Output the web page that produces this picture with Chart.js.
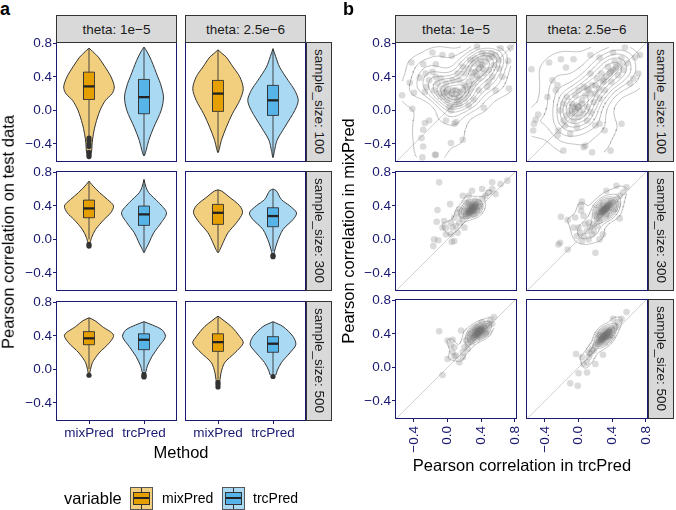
<!DOCTYPE html>
<html>
<head>
<meta charset="utf-8">
<script src="https://cdn.jsdelivr.net/npm/chart.js@4.4.1/dist/chart.umd.min.js"></script>
<style>
  body { margin: 0; background: #fff; }
  #fig { position: relative; width: 676px; height: 510px; overflow: hidden;
         font-family: 'Liberation Sans', Arial, sans-serif; color: #1a1a1a; }
  #fig canvas { position: absolute; }
  .strip { position: absolute; box-sizing: border-box; background: #d9d9d9; border: 1px solid #333;
           font-size: 13.5px; display: flex; align-items: center; justify-content: center; white-space: nowrap; }
  .strip.side span { writing-mode: vertical-rl; }
  .txt { position: absolute; white-space: nowrap; line-height: 1; }
  .key { position: absolute; width: 23px; height: 23px; box-sizing: border-box; border: 1px solid #555; }
  .key .wh { position: absolute; left: 10px; top: 0; width: 1px; height: 21px; background: #333; }
  .key .bx { position: absolute; left: 2px; top: 4px; width: 17px; height: 13px; box-sizing: border-box; border: 1px solid #333; }
  .key .md { position: absolute; left: 0; top: 4px; width: 15px; height: 2px; background: #222; }
</style>
</head>
<body>
<div id="fig"></div>
<script>
const navy = '#191970';
const categories = ['mixPred', 'trcPred'];
const thetaLabels = ['theta: 1e\u22125', 'theta: 2.5e\u22126'];
const sizeLabels = ['sample_size: 100', 'sample_size: 300', 'sample_size: 500'];
const corTicks = [-0.4, 0, 0.4, 0.8];

// violin outlines as [correlation, half width in category units]; rows = sample size, cols = theta
const violinMix = [
  [[[0.74,0],[0.72,0.04],[0.70,0.07],[0.635,0.17],[0.52,0.29],[0.40,0.40],[0.28,0.46],[0.20,0.42],[0.12,0.30],[0.0,0.20],[-0.16,0.12],[-0.28,0.08],[-0.40,0.055],[-0.50,0.045],[-0.555,0]],
   [[0.722,0],[0.68,0.07],[0.635,0.15],[0.516,0.275],[0.40,0.396],[0.258,0.459],[0.12,0.396],[-0.04,0.262],[-0.2,0.152],[-0.357,0.061],[-0.45,0.028],[-0.504,0]]],
  [[[0.694,0],[0.65,0.055],[0.556,0.194],[0.476,0.336],[0.40,0.446],[0.317,0.396],[0.238,0.275],[0.119,0.121],[0.02,0.046],[-0.08,0]],
   [[0.59,0],[0.575,0.07],[0.516,0.183],[0.40,0.396],[0.317,0.446],[0.198,0.336],[0.08,0.183],[-0.04,0.092],[-0.12,0.037],[-0.159,0]]],
  [[[0.615,0],[0.58,0.11],[0.51,0.244],[0.41,0.446],[0.314,0.367],[0.196,0.183],[0.08,0.061],[0.0,0.028],[-0.07,0]],
   [[0.635,0],[0.58,0.11],[0.51,0.244],[0.39,0.396],[0.314,0.459],[0.196,0.305],[0.08,0.121],[-0.04,0.055],[-0.12,0.037],[-0.21,0]]]
];
const violinTrc = [
  [[[0.754,0],[0.70,0.055],[0.595,0.134],[0.40,0.25],[0.317,0.30],[0.16,0.354],[0.0,0.312],[-0.2,0.178],[-0.357,0.086],[-0.48,0.037],[-0.544,0]],
   [[0.735,0],[0.64,0.05],[0.516,0.12],[0.357,0.275],[0.238,0.396],[0.12,0.459],[0.0,0.396],[-0.2,0.213],[-0.357,0.073],[-0.48,0.028],[-0.563,0]]],
  [[[0.714,0],[0.62,0.037],[0.556,0.086],[0.437,0.27],[0.317,0.409],[0.198,0.312],[0.08,0.178],[-0.04,0.092],[-0.12,0.03],[-0.159,0]],
   [[0.60,0],[0.58,0.06],[0.476,0.152],[0.40,0.305],[0.317,0.428],[0.238,0.367],[0.119,0.183],[-0.04,0.073],[-0.14,0.028],[-0.206,0]]],
  [[[0.568,0],[0.53,0.15],[0.47,0.33],[0.39,0.39],[0.274,0.27],[0.156,0.147],[0.04,0.061],[-0.02,0.037],[-0.09,0]],
   [[0.568,0],[0.51,0.183],[0.39,0.367],[0.294,0.415],[0.196,0.305],[0.08,0.152],[-0.02,0.073],[-0.06,0.055],[-0.085,0]]]
];
// boxplots: [lower whisker, q1, median, q3, upper whisker]
const boxMix = [
  [[-0.318, 0.13, 0.286, 0.456, 0.735], [-0.50, -0.012, 0.20, 0.357, 0.72]],
  [[0.0, 0.258, 0.369, 0.468, 0.69], [-0.159, 0.179, 0.317, 0.417, 0.587]],
  [[0.0, 0.294, 0.37, 0.45, 0.615], [-0.12, 0.215, 0.325, 0.424, 0.635]]
];
const boxTrc = [
  [[-0.54, -0.04, 0.158, 0.369, 0.75], [-0.56, -0.06, 0.12, 0.298, 0.735]],
  [[-0.159, 0.167, 0.298, 0.397, 0.71], [-0.14, 0.151, 0.278, 0.377, 0.595]],
  [[-0.02, 0.235, 0.353, 0.424, 0.568], [-0.06, 0.204, 0.306, 0.39, 0.568]]
];
const outMix = [
  [[-0.33, -0.36, -0.40, -0.43, -0.50, -0.53, -0.55], []],
  [[-0.06, -0.08], []],
  [[-0.07], [-0.155, -0.18, -0.21]]
];
const outTrc = [
  [[], []],
  [[], [-0.19, -0.206]],
  [[-0.06, -0.08, -0.09], [-0.085]]
];

// scatter points [trcPred, mixPred]
const pairs_n100_t1 = [[-0.18,0.69],[-0.06,0.66],[0.05,0.65],[0.35,0.76],[0.52,0.68],[0.63,0.74],[0.75,0.75],[-0.43,0.57],[-0.29,0.55],[-0.14,0.55],[-0.26,0.44],[-0.33,0.39],[-0.45,0.33],[-0.54,0.18],[-0.40,0.21],[-0.27,0.22],[-0.25,0.28],[-0.42,0.02],[-0.27,-0.15],[-0.22,-0.12],[-0.29,-0.23],[-0.31,-0.33],[-0.29,-0.43],[-0.30,-0.56],[-0.14,-0.53],[-0.15,-0.53],[0.04,-0.39],[0.18,-0.35],[0.10,-0.14],[0.08,-0.16],[-0.02,-0.12],[0.43,0.03],[0.31,0.13],[0.73,0.26],[0.57,0.24],[0.72,0.59],[0.49,0.34],[0.04,0.0],[0.25,0.06],
  [-0.12,0.32],[-0.06,0.26],[-0.02,0.22],[0.02,0.18],[0.06,0.24],[0.10,0.20],[0.14,0.16],[0.0,0.12],[-0.06,0.16],[-0.10,0.20],[0.18,0.24],[0.22,0.28],[0.25,0.34],[0.29,0.40],[0.33,0.46],[0.37,0.50],[0.41,0.54],[0.45,0.58],[0.49,0.62],[0.53,0.64],[0.57,0.66],[0.61,0.60],[0.55,0.54],[0.49,0.48],[0.43,0.44],[0.37,0.38],[0.31,0.32],[0.27,0.26],[0.24,0.20],[0.20,0.14],[0.14,0.08],[0.08,0.06],[0.02,0.04],[-0.14,0.40],[-0.18,0.46],[-0.22,0.36],[-0.16,0.24],[0.20,0.44],[0.25,0.50],[0.31,0.56],[0.39,0.60],[0.45,0.66],[0.61,0.50],[0.65,0.40],[0.53,0.40],[0.47,0.28],[0.37,0.24],[0.14,0.36],[0.06,0.36],[-0.02,0.32],[-0.08,0.38],[0.33,0.62],[0.41,0.68],[0.12,0.44],[0.18,0.52],[0.27,0.60],
  [0.05,0.20],[0.10,0.24],[0.30,0.45],[0.38,0.55],[0.20,0.30],[0.0,0.25],[0.15,0.22],[0.08,0.15],[-0.04,0.20],[0.42,0.50],[0.35,0.42],[0.12,0.12]];
const pairs_n100_t2 = [[-0.56,0.49],[-0.35,0.57],[-0.15,0.51],[-0.21,0.61],[-0.06,0.61],[0.14,0.66],[0.25,0.63],[0.41,0.69],[0.55,0.75],[0.67,0.63],[0.73,0.66],[-0.31,0.36],[-0.25,0.30],[-0.27,0.24],[-0.37,0.16],[-0.48,-0.05],[-0.51,-0.11],[-0.53,-0.16],[-0.54,-0.24],[-0.24,-0.24],[-0.25,-0.30],[-0.18,-0.48],[0.06,-0.44],[0.08,-0.42],[0.16,-0.50],[0.38,-0.48],[0.31,-0.24],[0.25,-0.16],[0.20,-0.18],[0.51,-0.16],[0.71,0.44],[0.65,0.38],[0.61,0.32],[-0.10,-0.28],[-0.02,-0.20],
  [-0.18,-0.12],[-0.14,-0.06],[-0.10,0.0],[-0.06,0.04],[-0.02,0.06],[-0.08,0.08],[-0.04,-0.02],[0.02,0.0],[0.0,-0.08],[0.06,-0.04],[0.10,0.04],[0.04,0.12],[0.08,0.18],[0.12,0.24],[0.06,0.28],[0.16,0.30],[0.20,0.20],[0.24,0.26],[0.29,0.34],[0.33,0.40],[0.37,0.44],[0.41,0.48],[0.45,0.52],[0.49,0.55],[0.53,0.48],[0.47,0.42],[0.39,0.34],[0.31,0.24],[0.25,0.14],[0.18,0.10],[0.14,-0.02],[-0.04,0.18],[0.0,0.24],[-0.14,0.16],[-0.18,0.08],[-0.22,0.0],[0.27,0.44],[0.35,0.52],[0.22,0.38],[0.14,0.44],[0.43,0.58],[0.51,0.62],[0.57,0.56],[-0.06,-0.12],[0.10,-0.12],[-0.16,-0.18],
  [-0.04,0.02],[0.0,0.04],[0.10,0.26],[0.14,0.20],[0.30,0.36],[0.38,0.46],[0.44,0.50],[0.20,0.30],[-0.08,-0.04],[0.04,0.08]];
const pairs_n300_t1 = [[-0.10,0.68],[0.53,0.68],[0.63,0.66],[0.71,0.70],[0.03,0.42],[-0.12,0.35],[-0.13,0.21],[-0.06,0.14],[-0.16,0.0],[-0.11,-0.01],[-0.17,-0.08],[-0.02,0.06],[0.04,0.06],[0.08,-0.02],[0.05,-0.03],[0.29,0.58],
  [0.10,0.16],[0.14,0.20],[0.18,0.24],[0.22,0.28],[0.25,0.32],[0.29,0.36],[0.33,0.40],[0.37,0.44],[0.41,0.48],[0.45,0.52],[0.49,0.56],[0.53,0.60],[0.24,0.36],[0.31,0.30],[0.27,0.40],[0.35,0.34],[0.20,0.34],[0.25,0.44],[0.16,0.28],[0.33,0.46],[0.39,0.40],[0.29,0.42],[0.22,0.44],[0.14,0.36],[0.08,0.26],[0.04,0.20],[0.12,0.32],[0.18,0.52],[0.41,0.60],[0.57,0.54],[0.06,0.14],[-0.02,0.14],[-0.04,0.22],[0.12,0.08],[0.20,0.14],[0.25,0.52],[0.31,0.34],[0.29,0.37],[0.30,0.38],[0.26,0.34],[0.32,0.39],[0.25,0.32],
  [0.28,0.35],[0.30,0.36],[0.27,0.36],[0.31,0.37],[0.29,0.34],[0.26,0.33],[0.33,0.38],[0.28,0.38],[0.30,0.40],[0.24,0.30],[0.34,0.42],[0.22,0.30],
  [0.27,0.33],[0.30,0.37],[0.33,0.39],[0.29,0.36],[0.31,0.38],[0.28,0.34],[0.32,0.40],[0.26,0.32]];
const pairs_n300_t2 = [[0.04,0.45],[0.03,0.40],[-0.21,0.27],[-0.13,0.23],[-0.04,0.26],[0.03,0.34],[0.06,0.28],[-0.06,0.14],[-0.22,-0.04],[-0.24,-0.06],[-0.13,-0.12],[0.20,-0.16],[0.29,0.06],[0.25,0.0],[0.49,0.25],[0.33,0.58],[0.57,0.62],[0.45,0.64],
  [-0.02,0.04],[0.02,0.08],[0.06,0.04],[0.10,0.10],[0.04,-0.02],[0.12,0.0],[0.16,0.06],[0.14,0.14],[0.18,0.18],[0.22,0.24],[0.25,0.28],[0.29,0.32],[0.33,0.36],[0.37,0.40],[0.41,0.44],[0.45,0.48],[0.49,0.52],[0.53,0.56],[0.31,0.34],[0.27,0.36],[0.35,0.38],[0.29,0.40],[0.33,0.30],[0.24,0.32],[0.39,0.46],[0.20,0.28],[0.08,0.18],[0.12,0.20],[0.18,0.10],[0.43,0.36],[0.47,0.42],[0.25,0.22],[0.31,0.37],[0.29,0.34],[0.34,0.39],[0.22,0.16],[0.0,0.14],
  [0.30,0.35],[0.32,0.37],[0.28,0.33],[0.33,0.38],[0.31,0.36],[0.27,0.32],[0.35,0.40],[0.36,0.42],[0.26,0.30],[0.38,0.43],
  [0.29,0.34],[0.32,0.36],[0.34,0.39],[0.30,0.36],[0.33,0.37],[0.28,0.33],[0.35,0.41],[0.31,0.35]];
const pairs_n500_t1 = [[-0.10,0.43],[0.16,0.44],[0.0,0.32],[0.06,0.33],[0.04,0.26],[0.08,0.24],[0.06,0.18],[0.0,0.10],[0.10,0.14],[0.08,0.13],[0.14,0.06],[0.18,0.12],[-0.06,-0.09],
  [0.20,0.24],[0.24,0.28],[0.27,0.32],[0.31,0.36],[0.35,0.40],[0.39,0.44],[0.43,0.48],[0.47,0.52],[0.51,0.56],[0.55,0.60],[0.25,0.36],[0.33,0.44],[0.37,0.38],[0.41,0.42],[0.29,0.30],[0.45,0.46],[0.35,0.48],[0.22,0.32],[0.49,0.50],[0.38,0.43],[0.36,0.41],[0.40,0.45],[0.33,0.39],[0.24,0.22],[0.53,0.52],[0.27,0.40],[0.18,0.18],[0.41,0.54],[0.45,0.40],
  [0.36,0.42],[0.37,0.43],[0.35,0.41],[0.38,0.44],[0.34,0.40],[0.39,0.45],[0.40,0.46],[0.32,0.38],[0.42,0.47],[0.30,0.35],[0.37,0.41],[0.36,0.44],
  [0.34,0.39],[0.37,0.42],[0.40,0.45],[0.36,0.41],[0.38,0.44],[0.35,0.42],[0.39,0.43],[0.33,0.37]];
const pairs_n500_t2 = [[0.57,0.66],[0.41,0.58],[-0.03,0.16],[0.04,0.12],[0.10,0.06],[0.20,0.04],[0.10,-0.06],[0.0,-0.07],[-0.10,-0.19],[-0.01,-0.22],[0.29,0.15],[0.06,0.04],[0.12,0.12],
  [0.12,0.18],[0.16,0.22],[0.20,0.26],[0.24,0.30],[0.27,0.34],[0.31,0.38],[0.35,0.42],[0.39,0.46],[0.43,0.50],[0.47,0.54],[0.51,0.58],[0.29,0.36],[0.33,0.40],[0.25,0.32],[0.37,0.44],[0.22,0.28],[0.30,0.37],[0.32,0.39],[0.28,0.34],[0.35,0.41],[0.18,0.20],[0.41,0.44],[0.25,0.38],[0.37,0.38],[0.14,0.16],[0.45,0.48],
  [0.30,0.36],[0.31,0.37],[0.29,0.35],[0.32,0.38],[0.33,0.39],[0.28,0.33],[0.34,0.40],[0.27,0.33],[0.36,0.42],[0.26,0.31],[0.30,0.38],[0.32,0.36],
  [0.29,0.35],[0.31,0.38],[0.34,0.41],[0.30,0.36],[0.33,0.38],[0.28,0.34],[0.36,0.43],[0.32,0.37]];
const scatterPairs = [[pairs_n100_t1, pairs_n100_t2], [pairs_n300_t1, pairs_n300_t2], [pairs_n500_t1, pairs_n500_t2]];

// layout
const fig = document.getElementById('fig');
const aCols = [56, 185], aW = 121, aRows = [42, 171, 301];
const bCols = [395, 526], bW = 122, bRows = [42, 171, 299];
const rowH = 120;
const AXW = 60, AXH = 44, PT = 10, PR = 24;
const lightMix = '#F2CF7F', darkMix = '#E69F00';
const lightTrc = '#AAD9F4', darkTrc = '#56B4E9';

Chart.defaults.font.family = "'Liberation Sans', Arial, sans-serif";

const frame = {
  id: 'frame',
  afterDraw(c) {
    const a = c.chartArea, g = c.ctx;
    g.save();
    g.strokeStyle = navy;
    g.lineWidth = 1;
    g.strokeRect(a.left + 0.5, a.top + 0.5, a.width - 1, a.height - 1);
    g.restore();
  }
};

const fmt = v => (v < 0 ? '\u2212' : '') + Math.abs(v).toFixed(1);

function addChart(L, T, W, H, cfg) {
  const cv = document.createElement('canvas');
  cv.width = W + AXW + PR;
  cv.height = H + PT + AXH;
  cv.style.left = (L - AXW) + 'px';
  cv.style.top = (T - PT) + 'px';
  fig.appendChild(cv);
  const tickFont = { size: 13.5 };
  new Chart(cv, {
    type: 'line',
    data: { datasets: cfg.datasets },
    options: {
      responsive: false,
      animation: false,
      events: [],
      layout: { padding: { top: PT, right: PR, left: 0, bottom: 0 } },
      plugins: { legend: { display: false }, tooltip: { enabled: false } },
      scales: {
        x: {
          type: 'linear', min: cfg.xMin, max: cfg.xMax,
          afterBuildTicks: s => { s.ticks = cfg.xTicks.map(v => ({ value: v })); },
          afterFit: s => { s.height = AXH; },
          grid: { drawOnChartArea: false, drawTicks: cfg.showX, tickLength: 3, tickColor: navy },
          border: { display: false },
          ticks: { display: cfg.showX, color: navy, font: tickFont, padding: cfg.xPad, autoSkip: false,
                   minRotation: cfg.rot, maxRotation: cfg.rot, callback: cfg.xLabel }
        },
        y: {
          type: 'linear', min: -0.615, max: 0.815,
          afterBuildTicks: s => { s.ticks = corTicks.map(v => ({ value: v })); },
          afterFit: s => { s.width = AXW; },
          grid: { drawOnChartArea: false, drawTicks: cfg.showY, tickLength: 3, tickColor: navy },
          border: { display: false },
          ticks: { display: cfg.showY, color: navy, font: tickFont, padding: 1, callback: fmt }
        }
      }
    },
    plugins: [frame]
  });
}

function violinSets(c, prof, box, outs, light, dark) {
  const right = prof.map(([v, w]) => ({ x: c + w, y: v }));
  const left = prof.slice(0, -1).reverse().map(([v, w]) => ({ x: c - w, y: v }));
  const bw = 0.1;
  return [
    { data: right.concat(left), fill: 'shape', backgroundColor: light, borderColor: '#333',
      borderWidth: 1, pointRadius: 0, tension: 0.3, order: 6 },
    { data: [{ x: c, y: box[0] }, { x: c, y: box[4] }], borderColor: '#333', borderWidth: 0.9, pointRadius: 0, order: 5 },
    { data: [{ x: c - bw, y: box[1] }, { x: c + bw, y: box[1] }, { x: c + bw, y: box[3] }, { x: c - bw, y: box[3] }, { x: c - bw, y: box[1] }],
      fill: 'shape', backgroundColor: dark, borderColor: '#333', borderWidth: 0.9, pointRadius: 0, order: 4 },
    { data: [{ x: c - bw, y: box[2] }, { x: c + bw, y: box[2] }], borderColor: '#222', borderWidth: 2.3, pointRadius: 0, order: 3 },
    { data: outs.map(v => ({ x: c, y: v })), showLine: false, pointRadius: 2.6,
      pointBackgroundColor: '#333', pointBorderWidth: 0, order: 2 }
  ];
}

// 2d kernel density (MASS::kde2d style) and its contour lines
function quantile(s, p) {
  const h = (s.length - 1) * p, lo = Math.floor(h);
  return s[lo] + (h - lo) * (s[Math.min(lo + 1, s.length - 1)] - s[lo]);
}
function bandwidth(v) {
  const n = v.length, m = v.reduce((a, b) => a + b, 0) / n;
  const sd = Math.sqrt(v.reduce((a, b) => a + (b - m) ** 2, 0) / (n - 1));
  const s = [...v].sort((a, b) => a - b);
  const iqr = (quantile(s, 0.75) - quantile(s, 0.25)) / 1.34;
  return 4 * 1.06 * Math.min(sd, iqr) * Math.pow(n, -0.2);
}
function contourSegments(pts) {
  const xs = pts.map(p => p[0]), ys = pts.map(p => p[1]), n = pts.length;
  const hx = bandwidth(xs) / 4, hy = bandwidth(ys) / 4;
  const N = 60;
  const x0 = Math.min(...xs), x1 = Math.max(...xs), y0 = Math.min(...ys), y1 = Math.max(...ys);
  const gx = [], gy = [];
  for (let i = 0; i < N; i++) { gx.push(x0 + (x1 - x0) * i / (N - 1)); gy.push(y0 + (y1 - y0) * i / (N - 1)); }
  const z = [];
  let zmin = Infinity, zmax = -Infinity;
  for (let i = 0; i < N; i++) {
    z.push([]);
    for (let j = 0; j < N; j++) {
      let s = 0;
      for (let k = 0; k < n; k++) {
        const a = (gx[i] - xs[k]) / hx, b = (gy[j] - ys[k]) / hy;
        s += Math.exp(-0.5 * (a * a + b * b));
      }
      s /= n * 2 * Math.PI * hx * hy;
      z[i].push(s);
      zmin = Math.min(zmin, s); zmax = Math.max(zmax, s);
    }
  }
  const cell = (zmax - zmin) / 10, U = Math.pow(10, Math.floor(Math.log10(cell)));
  let unit = U;
  if (2 * U - cell < 1.5 * (cell - unit)) {
    unit = 2 * U;
    if (5 * U - cell < 2.75 * (cell - unit)) {
      unit = 5 * U;
      if (10 * U - cell < 1.5 * (cell - unit)) unit = 10 * U;
    }
  }
  const levels = [];
  for (let l = Math.ceil(zmin / unit) * unit; l < zmax; l += unit) if (l > zmin) levels.push(l);
  const seg = [];
  for (const l of levels) {
    for (let i = 0; i < N - 1; i++) {
      for (let j = 0; j < N - 1; j++) {
        const c = [[gx[i], gy[j], z[i][j]], [gx[i + 1], gy[j], z[i + 1][j]],
                   [gx[i + 1], gy[j + 1], z[i + 1][j + 1]], [gx[i], gy[j + 1], z[i][j + 1]]];
        const hits = [];
        for (let e = 0; e < 4; e++) {
          const a = c[e], b = c[(e + 1) % 4];
          if ((a[2] >= l) !== (b[2] >= l)) {
            const t = (l - a[2]) / (b[2] - a[2]);
            hits.push({ x: a[0] + t * (b[0] - a[0]), y: a[1] + t * (b[1] - a[1]) });
          }
        }
        for (let h = 0; h + 1 < hits.length; h += 2) seg.push(hits[h], hits[h + 1], { x: NaN, y: NaN });
      }
    }
  }
  return seg;
}

// panel a: violins
for (let r = 0; r < 3; r++) {
  for (let c = 0; c < 2; c++) {
    const sets = violinSets(1, violinMix[r][c], boxMix[r][c], outMix[r][c], lightMix, darkMix)
      .concat(violinSets(2, violinTrc[r][c], boxTrc[r][c], outTrc[r][c], lightTrc, darkTrc));
    addChart(aCols[c], aRows[r], aW, rowH, {
      datasets: sets, xMin: 0.4, xMax: 2.6, xTicks: [1, 2], xLabel: v => categories[v - 1],
      showX: r === 2, showY: c === 0, rot: 0, xPad: 1
    });
  }
}

// panel b: scatter with density contours
for (let r = 0; r < 3; r++) {
  for (let c = 0; c < 2; c++) {
    const pts = scatterPairs[r][c];
    const sets = [
      { data: [{ x: -1, y: -1 }, { x: 1, y: 1 }], borderColor: '#c4c4c4', borderWidth: 0.8, pointRadius: 0, order: 4 },
      { data: pts.map(([x, y]) => ({ x, y })), showLine: false, pointRadius: 3.3,
        pointBackgroundColor: 'rgba(110,110,110,0.25)', pointBorderWidth: 0, order: 3 },
      { data: contourSegments(pts), borderColor: 'rgba(125,125,125,0.75)', borderWidth: 0.6,
        pointRadius: 0, spanGaps: false, order: 2 }
    ];
    addChart(bCols[c], bRows[r], bW, rowH, {
      datasets: sets, xMin: -0.625, xMax: 0.825, xTicks: corTicks, xLabel: fmt,
      showX: r === 2, showY: c === 0, rot: 90, xPad: 4
    });
  }
}

// strips, titles, legend
function div(cls, css, html) {
  const d = document.createElement('div');
  d.className = cls;
  d.style.cssText = css;
  d.innerHTML = html;
  fig.appendChild(d);
  return d;
}
[[aCols, aW, aRows], [bCols, bW, bRows]].forEach(([cols, w, rows]) => {
  cols.forEach((x, i) => div('strip', `left:${x}px;top:15px;width:${w}px;height:28px;`, thetaLabels[i]));
  rows.forEach((y, i) => div('strip side', `left:${cols[1] + w}px;top:${y}px;width:26px;height:${rowH}px;`, `<span>${sizeLabels[i]}</span>`));
});
div('txt', 'left:0px;top:0px;font-size:18px;font-weight:bold;color:#000;', 'a');
div('txt', 'left:343px;top:0px;font-size:18px;font-weight:bold;color:#000;', 'b');
div('txt', 'left:8px;top:232px;font-size:16.5px;color:#000;transform:translate(-50%,-50%) rotate(-90deg);', 'Pearson correlation on test data');
div('txt', 'left:348px;top:231px;font-size:16.5px;color:#000;transform:translate(-50%,-50%) rotate(-90deg);', 'Pearson correlation in mixPred');
div('txt', 'left:181px;top:452px;font-size:16.5px;color:#000;transform:translate(-50%,-50%);', 'Method');
div('txt', 'left:522px;top:465px;font-size:16.5px;color:#000;transform:translate(-50%,-50%);', 'Pearson correlation in trcPred');
div('txt', 'left:64px;top:498px;font-size:16.5px;color:#000;transform:translateY(-50%);', 'variable');
[[130, lightMix, darkMix, 162], [222, lightTrc, darkTrc, 253]].forEach(([x, lt, dk, tx], i) => {
  div('key', `left:${x}px;top:487px;background:${lt};`,
      `<div class="wh"></div><div class="bx" style="background:${dk}"><div class="md"></div></div>`);
  div('txt', `left:${tx}px;top:498px;font-size:14px;color:#000;transform:translateY(-50%);`, categories[i]);
});
</script>
</body>
</html>
